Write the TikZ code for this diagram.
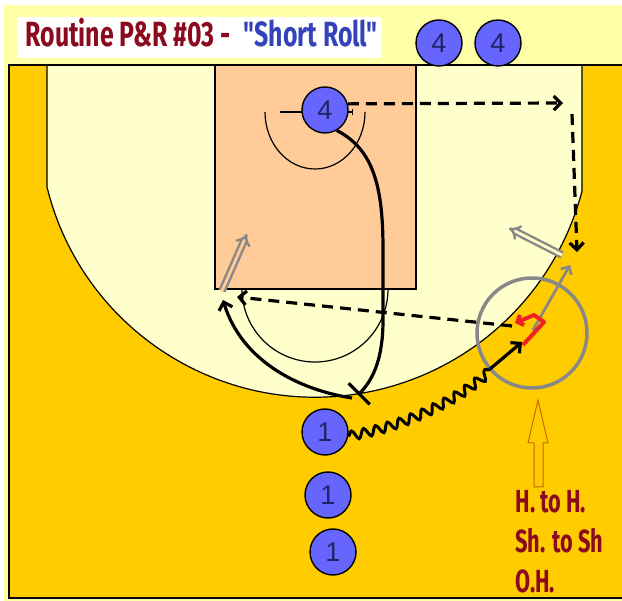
\documentclass[tikz,border=0pt]{standalone}
\usepackage{fontspec}
\setmainfont{Liberation Sans}
\newfontfamily\condfont[FakeStretch=0.68]{Fira Sans}
\newfontfamily\titlefont[FakeStretch=0.71]{Fira Sans}
\usetikzlibrary{arrows.meta,decorations.pathmorphing}

\definecolor{band}{HTML}{FFFFA8}
\definecolor{pale}{HTML}{FFFFCC}
\definecolor{floor}{HTML}{FFCC00}
\definecolor{paint}{HTML}{FFCC99}
\definecolor{playerfill}{HTML}{6666FF}
\definecolor{playertext}{HTML}{222266}
\definecolor{titlered}{HTML}{8C0A1E}
\definecolor{titleblue}{HTML}{3344BB}
\definecolor{gcol}{HTML}{888888}
\definecolor{hintorange}{HTML}{CC6600}
\definecolor{hookred}{HTML}{EE2222}

\tikzset{
  player/.style={circle, draw=black, line width=1.4pt, fill=playerfill,
    minimum size=46pt, inner sep=0pt, text=playertext,
    font=\fontsize{27}{27}\selectfont},
  courtline/.style={draw=black, line width=1.2pt},
  tip/.style={-{Straight Barb[length=7pt,width=14pt]}},
  pass/.style={tip, line width=3.2pt, dash pattern=on 11pt off 7pt},
  cut/.style={tip, line width=3.2pt},
  dribble/.style={line width=3pt, decorate,
    decoration={snake, amplitude=4.5pt, segment length=12.5pt}},
  hollow/.style={draw=gcol, line width=2.4pt, double distance=2.8pt,
    -{Implies}},
  label/.style={anchor=base west, text=titlered,
    font=\condfont\bfseries\fontsize{32}{32}\selectfont},
}

\begin{document}
\begin{tikzpicture}[x=1pt,y=-1pt]
\useasboundingbox (0,0) rectangle (622,601);
\fill[white] (0,0) rectangle (622,601);
\fill[band] (4,5) rectangle (622,601);

% court floor and the area inside the three-point line
\fill[floor] (9,65) rectangle (622,598);
\fill[pale] (47,65) -- (47,187) arc[start angle=166.2, end angle=14.7, radius=276] -- (582,65) -- cycle;
\draw[courtline] (47,65) -- (47,187) arc[start angle=166.2, end angle=14.7, radius=276] -- (582,65);
\draw[courtline] (622,65) -- (9,65) -- (9,598) -- (622,598);

% lane, free-throw arc, restricted arc and backboard
\filldraw[fill=paint, courtline] (215,65) rectangle (416,289);
\draw[line width=1.2pt] (242,289) arc[start angle=180, end angle=0, radius=73];
\draw[line width=1.2pt] (265,112) arc[start angle=180, end angle=0, x radius=50, y radius=57];
\draw[line width=1.2pt] (280,112) -- (352,112);
\draw[line width=1pt] (352,109) -- (352,115);

% title
\fill[white] (17,17) rectangle (382,58);
\node[label, font=\titlefont\bfseries\fontsize{35}{35}\selectfont] (title) at (22,47)
  {Routine P\&R \#03 -\hspace{13pt}\textcolor{titleblue}{"Short Roll"}};

% players
\node[player] (p4) at (325,110) {4};
\node[player] (t4a) at (439,43) {4};
\node[player] (t4b) at (498,43) {4};
\node[player] (p1a) at (325,432) {1};
\node[player] (p1b) at (328,495) {1};
\node[player] (p1c) at (333,552) {1};

% reference points for the movements
\coordinate (corner) at (563,103);
\coordinate (wingtop) at (572,114);
\coordinate (wing) at (577,252);
\coordinate (screen) at (358,395);
\coordinate (rollend) at (223,300);
\coordinate (rollstart) at (352,398);
\coordinate (passfrom) at (512,326);
\coordinate (passto) at (237,297);
\coordinate (dribbleend) at (490,369);
\coordinate (attack) at (522,342);

% help-side circle and guidance arrows
\draw[gcol, line width=3.5pt] (532,333) circle[radius=55];
\draw[hollow, double=paint] (222,291) -- (247,234);
\draw[hollow, double=pale] (562,255) -- (509,228);
\draw[gcol, line width=2.8pt, -{Straight Barb[length=6pt,width=12pt]}] (533,330) -- (570,265);

% movements
\draw[pass] (p4.15) -- (corner);
\draw[pass] (wingtop) -- (wing);
\draw[line width=3.2pt, -{Bar[width=30pt]}] (p4.-60) .. controls (375,150) and (383,190) .. (383,250)
  -- (383,320) .. controls (383,355) and (375,378) .. (screen);
\draw[cut] (rollstart) .. controls (300,390) and (242,362) .. (rollend);
\draw[pass] (passfrom) -- (passto);
\draw[dribble] (p1a.-10) .. controls (400,427) and (455,402) .. (dribbleend);
\draw[cut] (dribbleend) -- (attack);
\draw[hookred, line width=4pt, line join=round, -{Straight Barb[length=5pt,width=11pt]}]
  (523,345) -- (544,322) -- (534,315) -- (515,323);

% pointer to the coaching notes
\filldraw[fill=floor, draw=hintorange, line width=1pt]
  (538,400) -- (548,443) -- (543,443) -- (543,487) -- (534,487) -- (534,443) -- (528,443) -- cycle;
\node[label] (n1) at (512,513) {H. to H.};
\node[label] (n2) at (512,553) {Sh. to Sh};
\node[label] (n3) at (512,593) {O.H.};
\end{tikzpicture}
\end{document}
